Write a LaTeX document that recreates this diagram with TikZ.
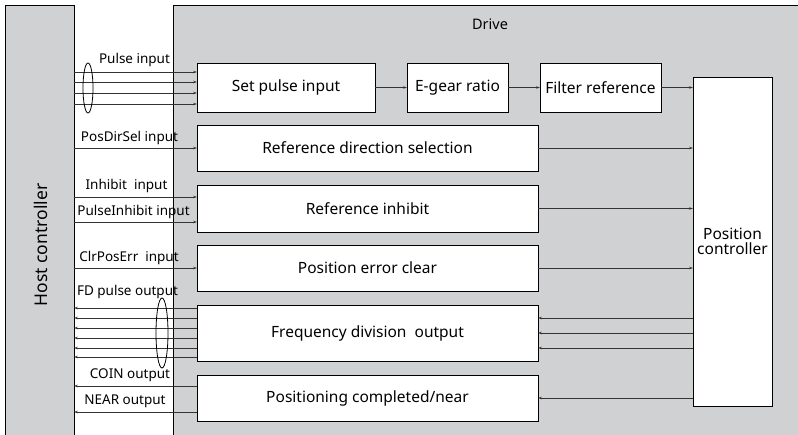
\documentclass[tikz,border=0pt]{standalone}
\usepackage{fontspec}
\setmainfont{Noto Sans}
\usetikzlibrary{arrows.meta}
\definecolor{panelgray}{HTML}{D0D1D3}
\definecolor{linegray}{HTML}{333333}
\begin{document}
\begin{tikzpicture}[x=1pt,y=-1pt,
  panel/.style={draw=black,fill=panelgray,line width=0.9pt,inner sep=0pt,outer sep=0pt,anchor=north west},
  blk/.style={draw=black,fill=white,line width=0.9pt,inner sep=0pt,outer sep=0pt,anchor=north west,
    font=\fontsize{15.5}{17}\selectfont,align=center},
  lbl/.style={font=\fontsize{13.5}{15}\selectfont,inner sep=0pt},
  sig/.style={draw=linegray,line width=0.8pt,-{Stealth[length=4pt,width=2.6pt]}},
  bundle/.style={draw=black,line width=0.8pt}]
\useasboundingbox (0,0) rectangle (798,435);
\fill[white] (0,0) rectangle (798,435);

% host controller and drive panels
\node[panel,minimum width=69pt,minimum height=445pt] (host) at (5,5) {};
\node[font=\fontsize{17.5}{20}\selectfont,rotate=90] (hostlbl) at (40.5,245) {Host controller};
\node[panel,minimum width=640pt,minimum height=445pt] (drive) at (173,5) {};
\node[font=\fontsize{14.5}{16}\selectfont] (drivelbl) at (490,24) {Drive};

% function blocks
\node[blk,minimum width=178pt,minimum height=49pt] (setp) at (197,63) {Set pulse input};
\node[blk,minimum width=101pt,minimum height=49pt] (egear) at (407,63) {E-gear ratio};
\node[blk,minimum width=121pt,minimum height=49pt] (filt) at (540,63) {Filter reference};
\node[blk,minimum width=341pt,minimum height=46pt] (rdir) at (197,125) {Reference direction selection};
\node[blk,minimum width=341pt,minimum height=47pt] (rinh) at (197,185) {Reference inhibit};
\node[blk,minimum width=341pt,minimum height=46pt] (perr) at (197,245) {Position error clear};
\node[blk,minimum width=341pt,minimum height=56pt] (fdo) at (197,305) {Frequency division\ \ output};
\node[blk,minimum width=341pt,minimum height=46pt] (pcn) at (197,375) {Positioning completed/near};
\node[blk,minimum width=79pt,minimum height=329pt] (pc) at (693,77) {Position\\[-2pt]controller};

% chain along the top row
\draw[sig] (setp) -- (egear);
\draw[sig] (egear) -- (filt);
\draw[sig] (filt.east) -- (pc.west |- filt.east);

% blocks feeding the position controller
\draw[sig] (rdir.east) -- (pc.west |- rdir.east);
\draw[sig] (rinh.east) -- (pc.west |- rinh.east);
\draw[sig] (perr.east) -- (pc.west |- perr.east);

% position controller back to the output blocks
\foreach \yy in {318,333,348} \draw[sig] (pc.west |- 0,\yy) -- (fdo.east |- 0,\yy);
\draw[sig] (pc.west |- pcn.east) -- (pcn.east);

% inputs from the host controller
\foreach \yy in {72,82,93,104} \draw[sig] (host.east |- 0,\yy) -- (setp.west |- 0,\yy);
\draw[bundle] (88,88) ellipse [x radius=5, y radius=25];
\node[lbl] (lpulse) at (134.5,60) {Pulse input};

\draw[sig] (host.east |- rdir.west) -- (rdir.west);
\node[lbl] (ldir) at (129.5,138) {PosDirSel input};

\draw[sig] (host.east |- 0,197) -- (rinh.west |- 0,197);
\node[lbl] (linh) at (126.5,186) {Inhibit\ \ input};
\draw[sig] (host.east |- 0,222) -- (rinh.west |- 0,222);
\node[lbl] (lpinh) at (133.5,212) {PulseInhibit input};

\draw[sig] (host.east |- perr.west) -- (perr.west);
\node[lbl] (lclr) at (129,258) {ClrPosErr\ \ input};

% outputs to the host controller
\foreach \yy in {308,318,328,338,348,357} \draw[sig] (fdo.west |- 0,\yy) -- (host.east |- 0,\yy);
\draw[bundle] (162,333) ellipse [x radius=6, y radius=35];
\node[lbl] (lfd) at (127.5,292) {FD pulse output};

\draw[sig] (pcn.west |- 0,386) -- (host.east |- 0,386);
\node[lbl] (lcoin) at (130,375) {COIN output};
\draw[sig] (pcn.west |- 0,412) -- (host.east |- 0,412);
\node[lbl] (lnear) at (125,401) {NEAR output};
\end{tikzpicture}
\end{document}
